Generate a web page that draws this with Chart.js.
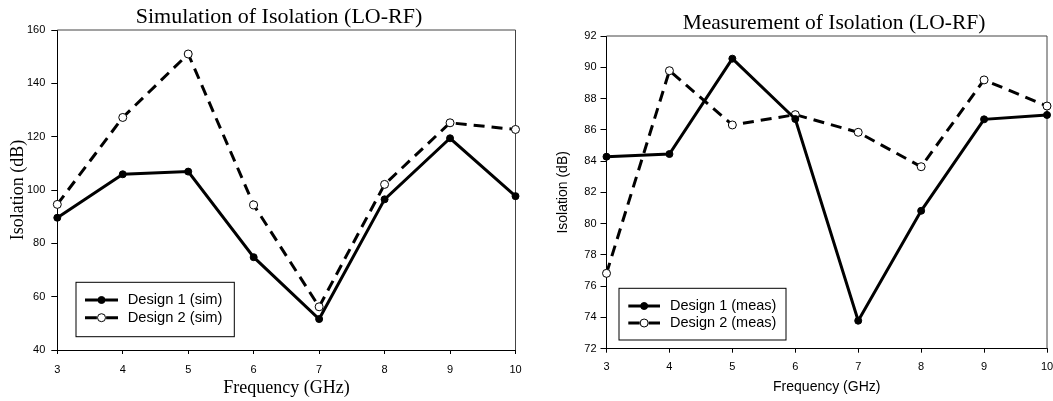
<!DOCTYPE html>
<html><head><meta charset="utf-8">
<script src="https://cdn.jsdelivr.net/npm/chart.js@4.4.1/dist/chart.umd.min.js"></script>
<style>
html,body{margin:0;padding:0;background:#fff;overflow:hidden;width:1053px;height:401px;position:relative;}
.box{position:absolute;top:0;height:401px;}
#b1{left:0;width:562px;}
#b2{left:540px;width:588px;}
</style></head><body>
<div class="box" id="b1"><canvas id="c1"></canvas></div>
<div class="box" id="b2"><canvas id="c2"></canvas></div>
<script>
// ---- data ----
const frequencies = ['3','4','5','6','7','8','9','10'];
const simDesign1 = [89.6, 105.9, 106.9, 74.8, 51.6, 96.5, 119.4, 97.7];
const simDesign2 = [94.6, 127.2, 151.0, 94.4, 56.2, 102.1, 125.2, 122.7];
const measDesign1 = [84.28, 84.45, 90.55, 86.69, 73.79, 80.82, 86.67, 86.95];
const measDesign2 = [76.82, 89.78, 86.31, 86.97, 85.84, 83.64, 89.19, 87.52];
const simYTicks = [40, 60, 80, 100, 120, 140, 160];
const measYTicks = [72, 74, 76, 78, 80, 82, 84, 86, 88, 90, 92];
const simLabels = ['Design 1 (sim)', 'Design 2 (sim)'];
const measLabels = ['Design 1 (meas)', 'Design 2 (meas)'];

const SANS = "'Liberation Sans', Arial, sans-serif";
const SERIF = "'Liberation Serif', 'Times New Roman', serif";

const titlePlugin = {
  id: 'topTitle',
  afterDraw(chart, args, o) {
    const ctx = chart.ctx;
    ctx.save();
    ctx.fillStyle = '#000';
    ctx.font = o.font;
    ctx.textAlign = 'center';
    ctx.textBaseline = 'alphabetic';
    ctx.fillText(o.text, o.x, o.y);
    ctx.restore();
  }
};

const framePlugin = {
  id: 'frame',
  beforeDatasetsDraw(chart) {
    const {ctx, chartArea: a} = chart;
    ctx.save();
    ctx.strokeStyle = '#444';
    ctx.lineWidth = 1;
    ctx.beginPath();
    ctx.moveTo(a.left, a.top); ctx.lineTo(a.right, a.top); ctx.lineTo(a.right, a.bottom);
    ctx.stroke();
    ctx.restore();
  }
};

const boxLegend = {
  id: 'boxLegend',
  afterDatasetsDraw(chart, args, o) {
    const {ctx, chartArea: a} = chart;
    const x0 = a.left + o.dx, y1 = a.bottom - o.dy, y0 = y1 - o.h;
    ctx.save();
    ctx.fillStyle = '#fff';
    ctx.fillRect(x0, y0, o.w, o.h);
    ctx.strokeStyle = '#000'; ctx.lineWidth = 1;
    ctx.strokeRect(x0, y0, o.w, o.h);
    chart.data.datasets.forEach((ds, i) => {
      const cy = y0 + o.firstRow + i * o.rowGap;
      const lx0 = x0 + o.lineX, lx1 = lx0 + o.lineW;
      ctx.beginPath();
      ctx.setLineDash(ds.borderDash ? [o.lineW * 0.36, o.lineW * 0.28] : []);
      ctx.lineWidth = ds.borderWidth; ctx.strokeStyle = ds.borderColor;
      ctx.moveTo(lx0, cy); ctx.lineTo(lx1, cy); ctx.stroke();
      ctx.setLineDash([]);
      ctx.beginPath();
      ctx.arc((lx0 + lx1) / 2, cy, ds.pointRadius, 0, Math.PI * 2);
      ctx.fillStyle = ds.pointBackgroundColor; ctx.fill();
      ctx.lineWidth = ds.pointBorderWidth; ctx.strokeStyle = ds.pointBorderColor; ctx.stroke();
      ctx.fillStyle = '#000'; ctx.font = o.font;
      ctx.textBaseline = 'middle'; ctx.textAlign = 'left';
      ctx.fillText(ds.label, x0 + o.textX, cy);
    });
    ctx.restore();
  }
};

function makeDatasets(labels, d1, d2) {
  return [
    {label: labels[0], data: d1, borderColor: '#000', borderWidth: 3, pointRadius: 3.5,
     pointBackgroundColor: '#000', pointBorderColor: '#000', pointBorderWidth: 1, tension: 0, clip: false},
    {label: labels[1], data: d2, borderColor: '#000', borderWidth: 3, borderDash: [11, 7], pointRadius: 4,
     pointBackgroundColor: '#fff', pointBorderColor: '#000', pointBorderWidth: 1, tension: 0, clip: false}
  ];
}

function makeChart(id, cfg) {
  const ys = cfg.yTicks;
  return new Chart(document.getElementById(id), {
    type: 'line',
    data: {labels: frequencies, datasets: makeDatasets(cfg.labels, cfg.d1, cfg.d2)},
    plugins: [framePlugin, boxLegend, titlePlugin],
    options: {
      responsive: true, maintainAspectRatio: false, animation: false,
      layout: {padding: {left: 0, right: cfg.padRight, top: cfg.padTop, bottom: 0}},
      plugins: {
        legend: {display: false}, tooltip: {enabled: false}, title: {display: false},
        topTitle: cfg.title,
        boxLegend: cfg.legend
      },
      scales: {
        x: {
          offset: false,
          grid: {display: true, drawOnChartArea: false, drawTicks: true, tickLength: 4, color: '#000', offset: false},
          border: {display: true, color: '#000', width: 1},
          ticks: {color: '#000', font: {family: SANS, size: 11}, padding: cfg.xTickPad, autoSkip: false, maxRotation: 0},
          title: {display: true, text: 'Frequency (GHz)', color: '#000', font: cfg.axisFont, padding: {top: 0, bottom: cfg.xTitlePad}},
          afterFit(s) { s.height = cfg.xHeight; }
        },
        y: {
          min: ys[0], max: ys[ys.length - 1],
          afterBuildTicks(s) { s.ticks = ys.map(v => ({value: v})); },
          grid: {display: true, drawOnChartArea: false, drawTicks: true, tickLength: 6, color: '#000'},
          border: {display: true, color: '#000', width: 1},
          ticks: {color: '#000', font: {family: SANS, size: 11}, padding: cfg.yTickPad},
          title: {display: true, text: 'Isolation (dB)', color: '#000', font: cfg.axisFont, padding: {top: cfg.yTitlePad, bottom: 0}},
          afterFit(s) { s.width = cfg.yWidth; }
        }
      }
    }
  });
}

makeChart('c1', {
  title: {text: 'Simulation of Isolation (LO-RF)', x: 279, y: 22.8, font: "22px 'Liberation Serif', 'Times New Roman', serif"},
  labels: simLabels, d1: simDesign1, d2: simDesign2, yTicks: simYTicks,
  padRight: 46.5, padTop: 30, xHeight: 51, yWidth: 57.3,
  xTickPad: 9, yTickPad: 6, xTitlePad: 2, yTitlePad: 7.2,
  axisFont: {family: SERIF, size: 18, weight: 'normal'},
  legend: {dx: 18.7, dy: 13.3, w: 158.3, h: 54.4, lineX: 9, lineW: 33, textX: 51.7, firstRow: 17.7, rowGap: 17.7,
           font: "14.7px 'Liberation Sans', Arial, sans-serif"}
});

makeChart('c2', {
  title: {text: 'Measurement of Isolation (LO-RF)', x: 294, y: 29.3, font: "21.5px 'Liberation Serif', 'Times New Roman', serif"},
  labels: measLabels, d1: measDesign1, d2: measDesign2, yTicks: measYTicks,
  padRight: 81, padTop: 36, xHeight: 52.3, yWidth: 66.5,
  xTickPad: 8, yTickPad: 4, xTitlePad: 5, yTitlePad: 15,
  axisFont: {family: SANS, size: 14, weight: 'normal'},
  legend: {dx: 12.5, dy: 8.7, w: 167, h: 51.7, lineX: 9.3, lineW: 31.7, textX: 51, firstRow: 17.7, rowGap: 17,
           font: "14.5px 'Liberation Sans', Arial, sans-serif"}
});
</script>
</body></html>
